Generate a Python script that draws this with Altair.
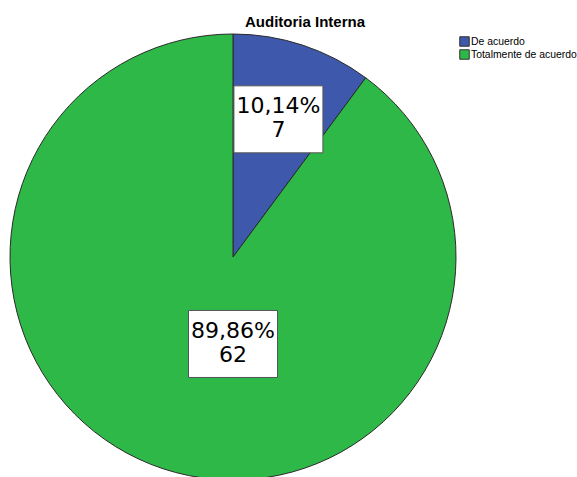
import altair as alt
import pandas as pd

categorias = ["De acuerdo", "Totalmente de acuerdo"]
frecuencias = [7, 62]
colores = ["#3E58AC", "#2EB848"]
titulo = "Auditoria Interna"

df = pd.DataFrame({"categoria": categorias, "n": frecuencias})

CX, CY, R = 233, 257, 223

base = alt.Chart(df)

pie = base.mark_arc(radius=R, stroke="#2a2a2a", strokeWidth=1).encode(
    theta=alt.Theta("n:Q", stack=True),
    order=alt.Order("categoria:N", sort="ascending"),
    color=alt.Color(
        "categoria:N",
        scale=alt.Scale(domain=categorias, range=colores),
        legend=alt.Legend(
            title=None,
            orient="none",
            legendX=459,
            legendY=36,
            symbolType="square",
            symbolSize=90,
            symbolStrokeColor="#333333",
            symbolStrokeWidth=1,
            symbolOpacity=1,
            labelFont="Liberation Sans",
            labelFontSize=10.4,
            labelColor="#000000",
            labelOffset=1,
            labelLimit=300,
            rowPadding=-4,
        ),
    ),
    x=alt.value(CX),
    y=alt.value(CY),
)

labels_base = base.transform_joinaggregate(
    total="sum(n)"
).transform_window(
    cum="sum(n)", sort=[alt.SortField("categoria", order="ascending")]
).transform_calculate(
    pct="datum.n / datum.total",
).transform_calculate(
    mid="2 * PI * (datum.cum - datum.n / 2) / datum.total",
    rf="datum.pct > 0.5 ? 0.39 : 0.65",
).transform_calculate(
    ang="datum.pct > 0.5 ? PI : datum.mid",
).transform_calculate(
    lx="datum.rf * sin(datum.ang)",
    ly="datum.rf * cos(datum.ang)",
    etiqueta="replace(format(datum.pct * 100, '.2f'), '.', ',') + '%\\n' + datum.n",
)

xs = alt.Scale(domain=[-1, 1], range=[CX - R, CX + R])
ys = alt.Scale(domain=[-1, 1], range=[CY + R, CY - R])

boxes = labels_base.mark_point(
    shape="M-1,-0.753L1,-0.753L1,0.753L-1,0.753Z",
    size=89 * 89,
    filled=True,
    fill="white",
    stroke="#555555",
    strokeWidth=1,
    opacity=1,
).encode(
    x=alt.X("lx:Q", scale=xs, axis=None),
    y=alt.Y("ly:Q", scale=ys, axis=None),
)

texts = labels_base.mark_text(
    font="DejaVu Sans",
    fontSize=22,
    lineBreak="\n",
    lineHeight=24,
    align="center",
    baseline="middle",
    dy=-13,
    color="#000000",
).encode(
    x=alt.X("lx:Q", scale=xs, axis=None),
    y=alt.Y("ly:Q", scale=ys, axis=None),
    text="etiqueta:N",
)

title = alt.Chart(pd.DataFrame({"t": [titulo]})).mark_text(
    font="Liberation Sans",
    fontSize=15,
    fontWeight="bold",
    align="left",
    baseline="alphabetic",
    color="#000000",
).encode(
    x=alt.value(245),
    y=alt.value(27),
    text="t:N",
)

chart = alt.layer(pie, boxes, texts, title).properties(
    width=577,
    height=477,
    padding=0,
    autosize=alt.AutoSizeParams(type="none"),
    view=alt.ViewBackground(strokeWidth=0, strokeOpacity=0),
).configure_view(strokeWidth=0, strokeOpacity=0).configure(background="white")

chart.save("out.html", embed_options={"renderer": "svg", "actions": False})
